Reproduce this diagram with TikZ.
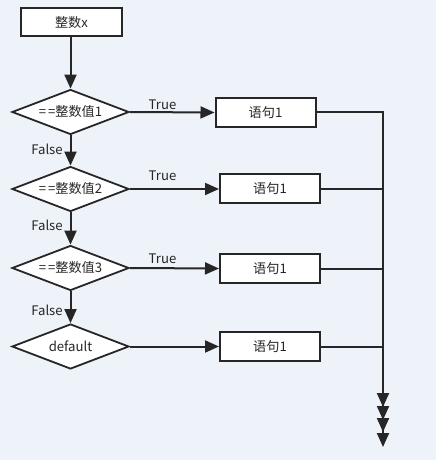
\documentclass[tikz,border=0pt]{standalone}
\usepackage{fontspec}
\setmainfont{Noto Sans CJK SC}
\usetikzlibrary{shapes.geometric,arrows.meta}
\definecolor{bg}{HTML}{EEF2F9}
\definecolor{ln}{HTML}{262626}
\begin{document}
\begin{tikzpicture}[x=1bp,y=-1bp,
  txt/.style={font=\fontsize{13.2}{15}\selectfont, text=ln},
  stbox/.style={txt, draw=ln, line width=2bp, fill=white, minimum width=100bp, minimum height=29bp, inner sep=0},
  dec/.style={txt, diamond, draw=ln, line width=1.8bp, fill=white, shape aspect=2.56, minimum width=117bp, minimum height=45bp, inner sep=0},
  arr/.style={draw=ln, line width=2bp, -{Triangle[length=14bp,width=12bp]}},
  lab/.style={txt, inner sep=0}]
\fill[bg] (0,0) rectangle (436,460);
\useasboundingbox (0,0) rectangle (436,460);

\node[stbox, minimum width=100bp, minimum height=28bp] (start) at (71.5,22.5) {整数x};
\node[dec] (d1) at (70.5,112) {=\kern2bp=整数值1};
\node[dec] (d2) at (70.5,189) {=\kern2bp=整数值2};
\node[dec] (d3) at (70.5,268) {=\kern2bp=整数值3};
\node[dec] (d4) at (70.5,346.5) {default};

\node[stbox] (b1) at (265.5,112.5) {语句1};
\node[stbox] (b2) at (270,189) {语句1};
\node[stbox] (b3) at (270,268.5) {语句1};
\node[stbox] (b4) at (270,346.5) {语句1};

\coordinate (e1) at (383,447);
\coordinate (e2) at (383,432);
\coordinate (e3) at (383,420);
\coordinate (e4) at (383,407);

\draw[arr] (start.south -| d1.north) -- (d1.north);
\draw[arr] (d1.south) -- (d2.north);
\draw[arr] (d2.south) -- (d3.north);
\draw[arr] (d3.south) -- (d4.north);

\draw[arr] (d1.east) -- (b1.west);
\draw[arr] (d2.east) -- (b2.west);
\draw[arr] (d3.east) -- (b3.west);
\draw[arr] (d4.east) -- (b4.west);

\draw[arr] (b1.east) -| (e1);
\draw[arr] (b2.east) -| (e2);
\draw[arr] (b3.east) -| (e3);
\draw[arr] (b4.east) -| (e4);

\node[lab] (t1) at (162.5,105) {True};
\node[lab] (t2) at (162.5,176) {True};
\node[lab] (t3) at (162.5,259) {True};
\node[lab] (f1) at (47,149.5) {False};
\node[lab] (f2) at (47,225.5) {False};
\node[lab] (f3) at (47,310) {False};
\end{tikzpicture}
\end{document}
